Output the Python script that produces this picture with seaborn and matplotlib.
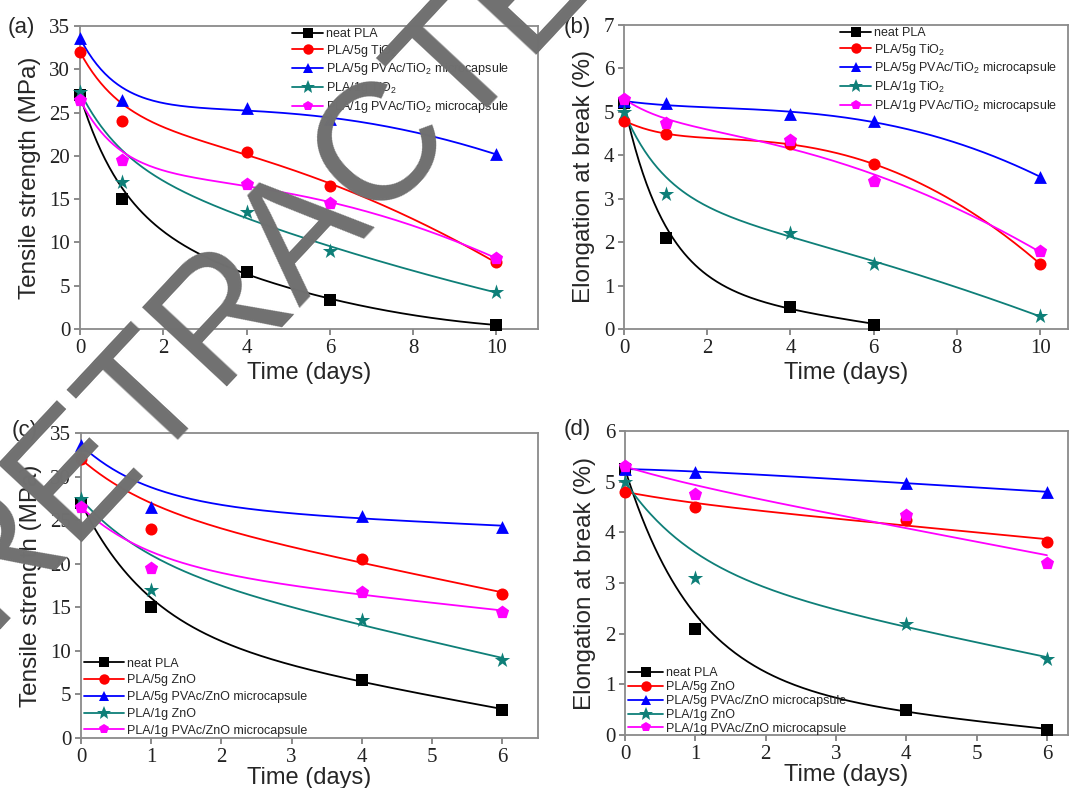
import numpy as np
import matplotlib
matplotlib.use("Agg")
import matplotlib.pyplot as plt
import seaborn as sns
from matplotlib.lines import Line2D

# ---- data ----
days_long = [0, 1, 4, 6, 10]
days_short = [0, 1, 4, 6]

# (a) tensile strength, TiO2 series (MPa)
ts_neat_a = [27.0, 15.0, 6.6, 3.3, 0.5]
ts_tio2_5 = [32.0, 24.0, 20.5, 16.5, 7.7]
ts_pvac_tio2_5 = [33.6, 26.5, 25.5, 24.2, 20.2]
ts_tio2_1 = [27.4, 17.0, 13.5, 9.0, 4.3]
ts_pvac_tio2_1 = [26.5, 19.5, 16.7, 14.5, 8.2]

# (b) elongation at break, TiO2 series (%)
el_neat_b = [5.2, 2.1, 0.5, 0.1]          # no day-10 point
el_tio2_5 = [4.8, 4.5, 4.25, 3.8, 1.5]
el_pvac_tio2_5 = [5.25, 5.2, 4.95, 4.8, 3.5]
el_tio2_1 = [5.0, 3.1, 2.2, 1.5, 0.3]
el_pvac_tio2_1 = [5.3, 4.75, 4.35, 3.4, 1.8]

# (c) tensile strength, ZnO series (MPa)
ts_neat_c = [27.0, 15.0, 6.6, 3.25]
ts_zno_5 = [32.0, 24.0, 20.5, 16.5]
ts_pvac_zno_5 = [33.6, 26.5, 25.5, 24.2]
ts_zno_1 = [27.4, 17.0, 13.5, 8.9]
ts_pvac_zno_1 = [26.5, 19.5, 16.7, 14.5]

# (d) elongation at break, ZnO series (%)
el_neat_d = [5.25, 2.1, 0.5, 0.1]
el_zno_5 = [4.8, 4.5, 4.25, 3.8]
el_pvac_zno_5 = [5.25, 5.2, 4.97, 4.8]
el_zno_1 = [5.0, 3.1, 2.2, 1.5]
el_pvac_zno_1 = [5.3, 4.75, 4.35, 3.4]

labels_tio2 = ["neat PLA", "PLA/5g TiO$_\\mathregular{2}$",
               "PLA/5g PVAc/TiO$_\\mathregular{2}$ microcapsule",
               "PLA/1g TiO$_\\mathregular{2}$",
               "PLA/1g PVAc/TiO$_\\mathregular{2}$ microcapsule"]
labels_zno = ["neat PLA", "PLA/5g ZnO", "PLA/5g PVAc/ZnO microcapsule",
              "PLA/1g ZnO", "PLA/1g PVAc/ZnO microcapsule"]

colors = ["#000000", "#ff0000", "#0000ff", "#0e7f78", "#ff00ff"]
markers = ["s", "o", "^", "*", "p"]
msizes = [65, 75, 85, 135, 100]

# how tightly the fitted curve follows the day-1 point
loose = [0.3, 0.3, 0.3, 0.3, 0.3]
mixed = [0.3, 1.0, 1.0, 0.3, 1.0]


def smooth_fit(x, y, xs, w1=1.0):
    # exponential decay + trend, start point pinned
    x = np.asarray(x, float)
    y = np.asarray(y, float)
    w = np.ones_like(x)
    w[0] = 8
    w[1] = w1
    best = None
    for k in np.linspace(0.3, 1.0, 29):
        def basis(v):
            cols = [np.ones_like(v), np.exp(-k * v), v]
            if len(x) >= 5:
                cols.append(v ** 2)
            return np.column_stack(cols)
        A = basis(x)
        coef, *_ = np.linalg.lstsq(A * w[:, None], y * w, rcond=None)
        err = np.sum((w * (A @ coef - y)) ** 2)
        if best is None or err < best[0]:
            best = (err, basis(xs) @ coef)
    return best[1]


sns.set_theme(style="white")
plt.rcParams["font.family"] = ["Liberation Sans", "DejaVu Sans"]
plt.rcParams["mathtext.fontset"] = "custom"
plt.rcParams["mathtext.rm"] = "Liberation Sans"

fig = plt.figure(figsize=(10.7, 7.88), dpi=100)
W, H = 1070, 788


def add_axes(l, r, t, b):
    return fig.add_axes([l / W, 1 - b / H, (r - l) / W, (b - t) / H])


panels = [
    dict(box=(80, 538, 26, 329), xlim=11.0, ylim=35, yt=np.arange(0, 36, 5),
         xt=[0, 2, 4, 6, 8, 10], ylabel="Tensile strength (MPa)",
         series=[(days_long, ts_neat_a), (days_long, ts_tio2_5),
                 (days_long, ts_pvac_tio2_5), (days_long, ts_tio2_1),
                 (days_long, ts_pvac_tio2_1)],
         labels=labels_tio2, tag="(a)", tag_pos=(72, 1), w1=loose, xpad=3,
         leg=dict(loc="upper left", bbox_to_anchor=(0.452, 1.01),
                  handlelength=2.5, labelspacing=0.22)),
    dict(box=(624, 1068, 25, 329), xlim=10.67, ylim=7, yt=range(0, 8),
         xt=[0, 2, 4, 6, 8, 10], ylabel="Elongation at break (%)",
         series=[(days_short, el_neat_b), (days_long, el_tio2_5),
                 (days_long, el_pvac_tio2_5), (days_long, el_tio2_1),
                 (days_long, el_pvac_tio2_1)],
         labels=labels_tio2, tag="(b)", tag_pos=(60, 2), w1=mixed, xpad=3,
         leg=dict(loc="upper left", bbox_to_anchor=(0.475, 1.01),
                  handlelength=2.5, labelspacing=0.22)),
    dict(box=(81, 538, 433, 738), xlim=6.51, ylim=35, yt=np.arange(0, 36, 5),
         xt=range(0, 7), ylabel="Tensile strength (MPa)",
         series=[(days_short, ts_neat_c), (days_short, ts_zno_5),
                 (days_short, ts_pvac_zno_5), (days_short, ts_zno_1),
                 (days_short, ts_pvac_zno_1)],
         labels=labels_zno, tag="(c)", tag_pos=(69, -2), w1=loose, xpad=0.5,
         leg=dict(loc="lower left", bbox_to_anchor=(-0.004, -0.012),
                  handlelength=3.2, labelspacing=0.38)),
    dict(box=(625, 1068, 431, 735), xlim=6.3, ylim=6, yt=range(0, 7),
         xt=range(0, 7), ylabel="Elongation at break (%)",
         series=[(days_short, el_neat_d), (days_short, el_zno_5),
                 (days_short, el_pvac_zno_5), (days_short, el_zno_1),
                 (days_short, el_pvac_zno_1)],
         labels=labels_zno, tag="(d)", tag_pos=(61, -2), w1=mixed, xpad=0.5,
         leg=dict(loc="lower left", bbox_to_anchor=(-0.004, -0.016),
                  handlelength=2.8, labelspacing=0.15)),
]

for p in panels:
    l, r, t, b = p["box"]
    ax = add_axes(l, r, t, b)
    for (x, y), c, m, s, w1 in zip(p["series"], colors, markers, msizes, p["w1"]):
        xs = np.linspace(0, max(x), 200)
        sns.lineplot(x=xs, y=smooth_fit(x, y, xs, w1), color=c, lw=1.3,
                     ax=ax, estimator=None, sort=False)
        sns.scatterplot(x=x, y=y, color=c, marker=m, s=s, linewidth=0,
                        ax=ax, zorder=4, clip_on=False)
    ax.set_xlim(0, p["xlim"])
    ax.set_ylim(0, p["ylim"])
    ax.set_xticks(list(p["xt"]))
    ax.set_yticks(list(p["yt"]))
    for lab in ax.get_xticklabels() + ax.get_yticklabels():
        lab.set_fontfamily("Liberation Serif")
        lab.set_fontsize(15)
        lab.set_color("#222222")
    ax.tick_params(direction="out", length=4, width=1.2, color="#777777",
                   bottom=True, left=True, pad=3)
    for sp in ax.spines.values():
        sp.set_color("#8a8a8a")
        sp.set_linewidth(1.3)
    ax.set_xlabel("Time (days)", fontsize=17, labelpad=p["xpad"])
    ax.set_ylabel(p["ylabel"], fontsize=17.5, labelpad=6)
    handles = [Line2D([], [], color=c, marker=m, markersize=7.5 if m != "*" else 10,
                      lw=1.3, markeredgewidth=0)
               for c, m in zip(colors, markers)]
    ax.legend(handles, p["labels"], frameon=False, fontsize=9,
              handletextpad=0.25, borderaxespad=0, borderpad=0.4,
              **p["leg"])
    dx, dy = p["tag_pos"]
    fig.text((l - dx) / W, 1 - (t + dy) / H, p["tag"], fontsize=16,
             ha="left", va="center")

# retraction watermark across the figure (baseline anchored)
fig.text(334 / W, 1 - 257 / H, "RETRACTED", fontsize=120, color="#707070",
         rotation=47, ha="center", va="baseline", rotation_mode="anchor",
         zorder=10)

fig.savefig("out.png", dpi=100)
